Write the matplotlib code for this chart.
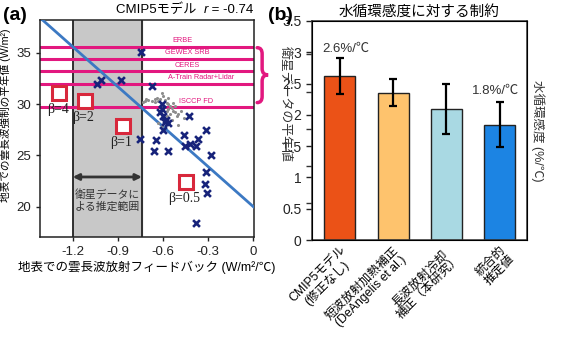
import matplotlib
matplotlib.use('Agg')
import matplotlib.pyplot as plt
from matplotlib.path import Path
from matplotlib.patches import PathPatch

plt.rcParams['font.family'] = ['Liberation Sans', 'Noto Sans CJK JP', 'DejaVu Sans']

# ---- panel (a) data ----
model_fb = [-0.745, -1.04, -1.01, -0.88, -0.675, -0.61, -0.62, -0.58, -0.57, -0.60,
            -0.60, -0.43, -0.753, -0.65, -0.464, -0.314, -0.366, -0.454, -0.42, -0.38,
            -0.66, -0.565, -0.281, -0.316, -0.32, -0.31, -0.38, -0.585, -0.61]
model_cre = [35.1, 32.0, 32.4, 32.4, 31.8, 30.0, 29.2, 28.5, 28.2, 28.8,
             27.5, 28.8, 26.65, 26.5, 27.0, 27.5, 26.65, 25.9, 26.1, 25.9,
             25.45, 25.45, 25.0, 23.35, 22.2, 21.3, 18.4, 28.3, 29.5]

grey_fb = [-0.609, -0.598, -0.653, -0.631, -0.62, -0.587, -0.576, -0.565, -0.553, -0.542,
           -0.565, -0.576, -0.531, -0.52, -0.553, -0.576, -0.598, -0.587, -0.542, -0.509,
           -0.498, -0.653, -0.675, -0.698, -0.642, -0.609, -0.598, -0.565, -0.531, -0.52,
           -0.631, -0.565, -0.609, -0.72, -0.48, -0.46, -0.50, -0.735, -0.71]
grey_cre = [31.1, 30.8, 30.5, 30.3, 30.5, 30.4, 30.15, 30.0, 29.8, 29.65,
            29.5, 29.3, 29.3, 29.2, 29.0, 28.85, 28.7, 28.4, 28.5, 28.85,
            29.0, 30.2, 30.3, 30.4, 30.6, 29.8, 29.5, 30.6, 30.15, 29.8,
            28.2, 28.2, 27.9, 30.3, 29.3, 28.6, 28.0, 30.2, 30.5]

obs_names = ['ERBE', 'GEWEX SRB', 'CERES', 'A-Train Radar+Lidar', 'ISCCP FD']
obs_values = [35.6, 34.4, 33.2, 32.0, 29.7]
obs_label_x = [-0.47, -0.44, -0.44, -0.35, -0.38]

beta_labels = ['β=4', 'β=2', 'β=1', 'β=0.5']
beta_fb = [-1.289, -1.118, -0.868, -0.449]
beta_cre = [31.1, 30.3, 27.9, 22.4]

fit_intercept = 20.0
fit_slope = -13.0
obs_range = [-1.2, -0.74]

# ---- panel (b) data ----
bar_labels = ['CMIP5モデル\n(修正なし)', '短波放射加熱補正\n(DeAngelis et al.)',
              '長波放射冷却\n補正（本研究）', '統合的\n推定値']
bar_values = [2.62, 2.35, 2.10, 1.84]
err_low = [2.33, 2.14, 1.70, 1.48]
err_high = [2.91, 2.57, 2.50, 2.20]
bar_colors = ['#EB5217', '#FEC36D', '#A9D9E3', '#1C84E3']

fig = plt.figure(figsize=(5.74, 3.37), dpi=100)
W, H = 574, 337

def px_axes(l, t, r, b):
    return fig.add_axes([l / W, 1 - b / H, (r - l) / W, (b - t) / H])

# ================= (a) =================
ax = px_axes(40, 20, 254, 237)
ax.set_xlim(-1.417, 0.004)
ax.set_ylim(17.05, 38.2)

ax.axvspan(obs_range[0], obs_range[1], color='#C8C8C8', zorder=0)
for xv in obs_range:
    ax.axvline(xv, color='#222222', lw=1.3, zorder=1)

for v in obs_values:
    ax.axhline(v, color='#E2187F', lw=2.2, zorder=2)
for name, v, lx_ in zip(obs_names, obs_values, obs_label_x):
    ax.text(lx_, v + 0.25, name, color='#E2187F', fontsize=5.3, ha='center', va='bottom', zorder=3)

xs = [-1.42, 0.0]
ax.plot(xs, [fit_intercept + fit_slope * x for x in xs], color='#3C79C3', lw=2, zorder=4)

ax.scatter(grey_fb, grey_cre, s=5, color='#8E8E8E', zorder=5, linewidths=0)
ax.scatter(model_fb, model_cre, marker='x', s=24, color='#17237A', linewidths=1.9, zorder=6)

ax.plot(beta_fb, beta_cre, ls='none', marker='s', ms=10, mfc='white', mec='#D8283C', mew=2.2, zorder=7)
for lab, bx_, by_ in zip(beta_labels, beta_fb, beta_cre):
    ax.text(bx_ - 0.01, by_ - 1.0, lab, family='Liberation Serif', fontsize=10,
            ha='center', va='top', color='#222222', zorder=7)

ax.annotate('', xy=(-0.74, 22.9), xytext=(-1.2, 22.9),
            arrowprops=dict(arrowstyle='<|-|>', color='#333333', lw=2,
                            mutation_scale=9, shrinkA=0, shrinkB=0), zorder=8)
ax.text(-0.97, 20.6, '衛星データに\nよる推定範囲', fontsize=7.8, ha='center', va='center',
        color='#333333', linespacing=1.15)

ax.set_xticks([-1.2, -0.9, -0.6, -0.3, 0])
ax.set_xticklabels(['-1.2', '-0.9', '-0.6', '-0.3', '0'])
ax.set_yticks([20, 25, 30, 35])
ax.tick_params(direction='out', length=3, width=1, labelsize=9.5, colors='#222222')
for s in ax.spines.values():
    s.set_linewidth(1.1)
    s.set_color('#222222')
ax.set_xlabel('地表での雲長波放射フィードバック (W/m²/℃)', fontsize=9, labelpad=2)
ax.set_ylabel('地表での雲長波強制の平年値 (W/m²)', fontsize=7.7)
ax.yaxis.set_label_coords(-0.135, 0.56)

t1 = ax.text(0.995, 1.02, ' = -0.74', ha='right', va='bottom', fontsize=9.5, transform=ax.transAxes)
t2 = ax.annotate('r', xy=(0, 0), xycoords=t1, ha='right', va='bottom', fontsize=9.5, style='italic')
ax.annotate('CMIP5モデル  ', xy=(0, 0), xycoords=t2, ha='right', va='bottom', fontsize=9.5)

# curly brace outside the axes
x0, xm, xt = 0.025, 0.058, 0.098
ytop, ymid, ybot = 35.5, 32.85, 30.15
r = 0.6
verts = [(x0, ytop), (xm, ytop), (xm, ytop - r),
         (xm, ymid + r), (xm, ymid), (xt, ymid),
         (xm, ymid), (xm, ymid - r),
         (xm, ybot + r), (xm, ybot), (x0, ybot)]
codes = [Path.MOVETO, Path.CURVE3, Path.CURVE3,
         Path.LINETO, Path.CURVE3, Path.CURVE3,
         Path.CURVE3, Path.CURVE3,
         Path.LINETO, Path.CURVE3, Path.CURVE3]
ax.add_patch(PathPatch(Path(verts, codes), fill=False, edgecolor='#E2187F', lw=2.5,
                       clip_on=False, capstyle='round'))
fig.text(285 / W, 1 - 104 / H, '衛星データの平年値', rotation=-90, fontsize=9.3,
         ha='center', va='center', color='#333333')

fig.text(3 / W, 1 - 15 / H, '(a)', fontsize=14, fontweight='bold', ha='left', va='center')
fig.text(268 / W, 1 - 15 / H, '(b)', fontsize=14, fontweight='bold', ha='left', va='center')

# ================= (b) =================
bx = px_axes(312, 21, 527, 240)
pos = list(range(len(bar_values)))
yerr = [[v - lo for v, lo in zip(bar_values, err_low)],
        [hi - v for v, hi in zip(bar_values, err_high)]]
bx.bar(pos, bar_values, width=0.58, color=bar_colors, edgecolor='#222222', lw=1, zorder=2)
bx.errorbar(pos, bar_values, yerr=yerr, fmt='none', ecolor='black', elinewidth=1.6,
            capsize=3, capthick=1.6, zorder=3)
bx.set_xlim(-0.52, 3.51)
bx.set_ylim(0, 3.5)
bx.set_title('水循環感度に対する制約', fontsize=10.5, pad=4)

bx.text(0.12, 3.06, '2.6%/℃', fontsize=9.5, ha='center', va='center', color='#333333')
bx.text(2.93, 2.39, '1.8%/℃', fontsize=9.5, ha='center', va='center', color='#333333')

bx.yaxis.tick_right()
bx.yaxis.set_label_position('right')
bx.set_yticks([0, 0.5, 1, 1.5, 2, 2.5, 3, 3.5])
bx.set_yticklabels(['0', '0.5', '1', '1.5', '2', '2.5', '3', '3.5'])
bx.set_ylabel('水循環感度 (%/℃)', rotation=-90, va='bottom', fontsize=9, labelpad=3,
              color='#333333')
bx.set_xticks(pos)
bx.set_xticklabels(bar_labels, rotation=45, ha='right', rotation_mode='anchor',
                   multialignment='center', fontsize=8.8, linespacing=1.0)
bx.tick_params(axis='x', length=0, pad=3)
bx.tick_params(axis='y', direction='out', length=4, width=1, labelsize=10, colors='#222222')
for s in bx.spines.values():
    s.set_linewidth(1.1)
    s.set_color('#333333')

# unlabeled ticks on the left side
lx = bx.twinx()
lx.set_ylim(0, 5.9)
lx.set_yticks([1, 2, 3, 4, 5])
lx.tick_params(axis='y', direction='out', length=4, width=1, colors='#333333',
               left=True, right=False, labelleft=False, labelright=False)
lx.set_xlim(bx.get_xlim())

fig.savefig('out.png', dpi=100)
